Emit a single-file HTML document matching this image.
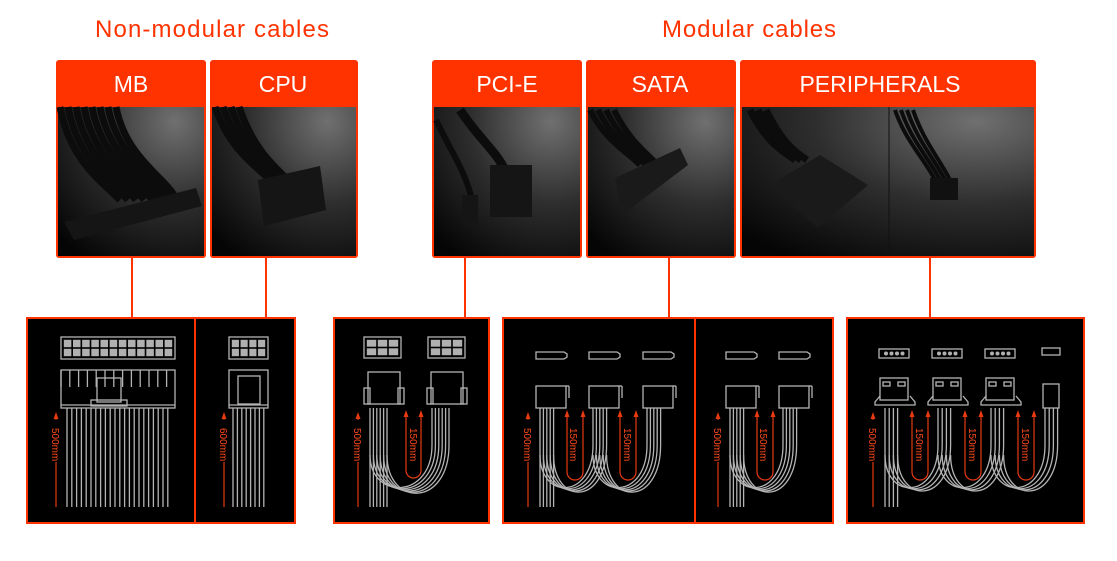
<!DOCTYPE html>
<html><head><meta charset="utf-8"><style>
html,body{margin:0;padding:0;background:#fff;}
svg{display:block;}
text{font-family:"Liberation Sans",sans-serif;}
</style></head><body>
<svg id="s" width="1117" height="561" viewBox="0 0 1117 561" xmlns="http://www.w3.org/2000/svg">
<defs>
<radialGradient id="ph" cx="0.8" cy="0.1" r="1.1">
<stop offset="0" stop-color="#707070"/><stop offset="0.5" stop-color="#2e2e2e"/><stop offset="1" stop-color="#050505"/>
</radialGradient>
</defs>
<rect width="1117" height="561" fill="#fff"/>
<text x="212" y="37" font-size="24" fill="#ff3300" text-anchor="middle" textLength="234">Non-modular cables</text>
<text x="749" y="37" font-size="24" fill="#ff3300" text-anchor="middle" textLength="174">Modular cables</text>

<g id="heads"></g>
<g stroke="#ff3300" stroke-width="2">
<line x1="132" y1="258" x2="132" y2="318"/><line x1="266" y1="258" x2="266" y2="318"/>
<line x1="465" y1="258" x2="465" y2="318"/><line x1="669" y1="258" x2="669" y2="318"/>
<line x1="930" y1="258" x2="930" y2="318"/>
</g>
<g fill="#000" stroke="#ff3300" stroke-width="2">
<rect x="27" y="318" width="268" height="205"/>
<rect x="334" y="318" width="155" height="205"/>
<rect x="503" y="318" width="330" height="205"/>
<rect x="847" y="318" width="237" height="205"/>
</g>
<g stroke="#ff3300" stroke-width="2"><line x1="195" y1="318" x2="195" y2="523"/><line x1="695" y1="318" x2="695" y2="523"/></g>
<g id="draw" fill="none" stroke="#b4b4b4" stroke-width="1.3"></g>
<g id="red" fill="none" stroke="#e63a10" stroke-width="1.2"></g>
<g fill="#ff4a1a" font-size="10">
<text transform="translate(52,428) rotate(90)">500mm</text>
<text transform="translate(220,428) rotate(90)">600mm</text>
<text transform="translate(354,428) rotate(90)">500mm</text>
<text transform="translate(410,428) rotate(90)">150mm</text>
<text transform="translate(524,428) rotate(90)">500mm</text>
<text transform="translate(570,428) rotate(90)">150mm</text>
<text transform="translate(624,428) rotate(90)">150mm</text>
<text transform="translate(714,428) rotate(90)">500mm</text>
<text transform="translate(760,428) rotate(90)">150mm</text>
<text transform="translate(869,428) rotate(90)">500mm</text>
<text transform="translate(916,428) rotate(90)">150mm</text>
<text transform="translate(969,428) rotate(90)">150mm</text>
<text transform="translate(1022,428) rotate(90)">150mm</text>
</g>
<g id="titles" fill="#fff" font-size="23" text-anchor="middle">
<text x="131" y="92">MB</text>
<text x="283" y="92">CPU</text>
<text x="507" y="92">PCI-E</text>
<text x="660" y="92">SATA</text>
<text x="880" y="92">PERIPHERALS</text>
</g>
</svg>
<script>
var NS="http://www.w3.org/2000/svg";
function el(p,t,a){var e=document.createElementNS(NS,t);for(var k in a)e.setAttribute(k,a[k]);p.appendChild(e);return e;}
var H=document.getElementById('heads'),D=document.getElementById('draw'),R=document.getElementById('red');
[[56,150],[210,148],[432,150],[586,150],[740,296]].forEach(function(b){
 el(H,'rect',{x:b[0],y:60,width:b[1],height:198,rx:3,fill:'#ff3300'});
 el(H,'rect',{x:b[0]+2,y:107,width:b[1]-4,height:149,fill:'url(#ph)'});
});
el(H,'line',{x1:889,y1:107,x2:889,y2:256,stroke:'#111','stroke-width':1});
function cab(d,w){el(H,'path',{d:d,stroke:'#0c0c0c','stroke-width':w,fill:'none'});}
for(var i=0;i<8;i++)cab('M'+(60+i*8)+',107 C'+(70+i*8)+',160 '+(100+i*10)+',180 '+(120+i*8)+',200',7);
el(H,'polygon',{points:'64,222 196,188 202,206 74,240',fill:'#151515'});
for(var i=0;i<4;i++)cab('M'+(215+i*8)+',107 C'+(230+i*8)+',150 '+(255+i*6)+',165 '+(270+i*6)+',180',7);
el(H,'polygon',{points:'258,180 320,166 326,210 264,226',fill:'#151515'});
cab('M436,120 C450,150 465,170 472,200',6);cab('M460,110 C480,140 495,150 505,170',9);
el(H,'rect',{x:490,y:165,width:42,height:52,fill:'#151515'});el(H,'rect',{x:462,y:195,width:16,height:30,fill:'#151515'});
for(var i=0;i<4;i++)cab('M'+(590+i*8)+',110 C'+(605+i*8)+',140 '+(625+i*6)+',150 '+(640+i*6)+',165',6);
el(H,'polygon',{points:'615,178 680,148 688,165 622,215',fill:'#1a1a1a'});
for(var i=0;i<3;i++)cab('M'+(750+i*8)+',110 C'+(765+i*8)+',140 '+(780+i*6)+',150 '+(795+i*6)+',160',7);
el(H,'polygon',{points:'770,185 820,155 868,185 818,228',fill:'#1a1a1a'});
for(var i=0;i<4;i++)cab('M'+(895+i*6)+',110 C'+(905+i*6)+',140 '+(925+i*5)+',160 '+(935+i*5)+',180',4);
el(H,'rect',{x:930,y:178,width:28,height:22,fill:'#111'});
function L(x1,y1,x2,y2){el(D,'line',{x1:x1,y1:y1,x2:x2,y2:y2});}
function rect(x,y,w,h,f){el(D,'rect',{x:x,y:y,width:w,height:h,fill:f||'none'});}
function grid(x,y,w,h,cols,rows){rect(x,y,w,h);var cw=(w-4)/cols,ch=(h-4)/rows;
 for(var c=0;c<cols;c++)for(var r=0;r<rows;r++)el(D,'rect',{x:x+2+c*cw+0.8,y:y+2+r*ch+0.8,width:cw-1.6,height:ch-1.6,fill:'#b0b0b0',stroke:'none'});}
function wires(x,n,g,y1,y2){for(var i=0;i<n;i++)L(x+i*g,y1,x+i*g,y2);}
function arrow(x,y1,y2,gap1,gap2){el(R,'line',{x1:x,y1:y2,x2:x,y2:gap2});el(R,'line',{x1:x,y1:gap1,x2:x,y2:y1+6});
 el(R,'polygon',{points:(x-2.5)+','+(y1+7)+' '+(x+2.5)+','+(y1+7)+' '+x+','+y1,fill:'#e63a10',stroke:'none'});}
function loop(a,b,top,bot){var r=(b-a)/2;
 el(R,'path',{d:'M'+a+','+(top+6)+' V'+(bot-r)+' A'+r+','+r+' 0 0 0 '+b+','+(bot-r)+' V'+(top+6)});
 [a,b].forEach(function(x){el(R,'polygon',{points:(x-2.5)+','+(top+7)+' '+(x+2.5)+','+(top+7)+' '+x+','+top,fill:'#e63a10',stroke:'none'});});}
function chain(xs,n,g,y0,yb){
 wires(xs[0],n,g,y0,yb);
 for(var k=1;k<xs.length;k++)for(var i=0;i<n;i++){var xr=xs[k]+i*g,xl=xs[k-1]+i*g;
  el(D,'path',{d:'M'+xr+','+y0+' V445 C'+xr+','+(500+i*1.5)+' '+xl+','+(500+i*1.5)+' '+xl+',455'});}}
grid(61,337,114,22,12,2);rect(61,370,114,38);wires(61,13,8.8,370,387);rect(97,378,24,24);rect(91,400,36,6);
L(61,405,175,405);wires(67,22,4.8,408,507);arrow(56,412,507,420,462);
grid(229,337,39,22,4,2);rect(229,370,39,38);rect(238,376,22,28);L(229,405,268,405);wires(233,8,4.4,408,507);arrow(224,412,507,420,462);
grid(364,337,37,21,3,2);grid(428,337,37,21,3,2);
rect(368,372,32,32);rect(431,372,32,32);rect(364,388,6,16);rect(398,388,6,16);rect(427,388,6,16);rect(461,388,6,16);
chain([370,432],6,3.4,408,507);arrow(358,412,507,420,462);loop(406,421,410,478);
function sata(x){el(D,'path',{d:'M'+x+',352 h28 l3,2 v3 l-3,2 h-28 z'});rect(x,386,30,22);L(x+30,386,x+33,386);L(x+33,386,x+33,398);}
[536,589,643,726,779].forEach(sata);
chain([540,593,647],5,3.4,408,507);chain([730,783],5,3.4,408,507);
arrow(528,412,507,420,462);arrow(718,412,507,420,462);
loop(567,583,410,480);loop(620,636,410,480);loop(757,773,410,480);
function molex(x){rect(x,349,30,9);for(var i=0;i<4;i++)el(D,'circle',{cx:x+7+i*5.5,cy:353.5,r:2,fill:'#b0b0b0',stroke:'none'});
 rect(x+1,378,28,22);rect(x+4,382,7,4);rect(x+19,382,7,4);el(D,'path',{d:'M'+(x+1)+',396 l-5,6 v3 h40 v-3 l-5,-6'});}
[879,932,985].forEach(molex);
rect(1042,348,18,7);rect(1043,384,16,24);
chain([885,938,991,1045],4,4.2,408,507);
arrow(873,412,507,420,462);loop(912,928,410,480);loop(965,981,410,480);loop(1018,1034,410,480);
</script>
</body></html>
